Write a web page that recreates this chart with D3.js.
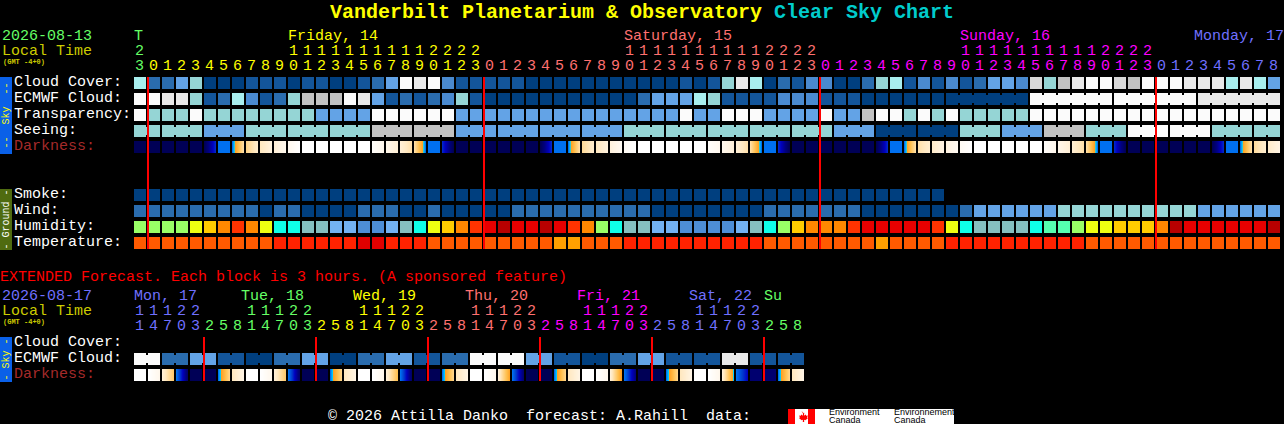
<!DOCTYPE html>
<html>
<head>
<meta charset="utf-8">
<title>Vanderbilt Planetarium & Observatory Clear Sky Chart</title>
<script src="https://cdn.jsdelivr.net/npm/d3@7/dist/d3.min.js"></script>
<style>
html,body{margin:0;padding:0;background:#000;overflow:hidden}
svg{display:block}
text{font-family:"Liberation Mono","DejaVu Sans Mono",monospace;font-size:15px;white-space:pre}
</style>
</head>
<body>
<svg id="chart" width="1284" height="424"></svg>
<script>
// ---------- labels ----------
const hourOnes = ("3"+"012345678901234567890123".repeat(3)+"012345678").split("");
const hourTens = ("2"+("          11111111112222").repeat(3)).split("");
const mainColourSpans = [["green",1],["yellow",24],["salmon",24],["magenta",24],["blue",9]];
const mainDays = [["T",0,"green"],["Friday, 14",11,"yellow"],["Saturday, 15",35,"salmon"],["Sunday, 16",59,"magenta"],["Monday, 17",75.72,"blue"]];
const extOnes = ("14703"+"25814703".repeat(5)+"258").split("");
const extTens = ("11122"+"   11122".repeat(5)).split("");
const extColourSpans = [["blue",5],["green",8],["yellow",8],["salmon",8],["magenta",8],["blue",8],["green",3]];
const extDays = [["Mon, 17",0,"blue"],["Tue, 18",7.64,"green"],["Wed, 19",15.64,"yellow"],["Thu, 20",23.64,"salmon"],["Fri, 21",31.64,"magenta"],["Sat, 22",39.64,"blue"],["Su",45,"green"]];
const skyLabels = ["Cloud Cover:","ECMWF Cloud:","Transparency:","Seeing:","Darkness:"];
const groundLabels = ["Smoke:","Wind:","Humidity:","Temperature:"];
const extLabels = ["Cloud Cover:","ECMWF Cloud:","Darkness:"];
const midnightColsMain = [1,25,49,73];
const midnightColsExt = [5,13,21,29,37,45];

// ---------- series (palette codes, one per hour block) ----------
const cloudCover = [6,2,2,4,5,0,0,0,1,1,1,0,1,1,0,0,1,2,4,8,7,8,3,1,1,1,1,1,0,0,0,0,0,0,0,0,0,0,0,1,0,1,5,7,6,0,2,1,3,3,0,0,2,5,6,1,3,1,3,1,2,4,4,3,10,5,9,7,8,8,10,9,8,8,8,7,7,7,6,7,6,4];
const ecmwfCloud = [8,8,7,7,5,1,2,6,3,1,2,5,9,9,9,8,7,4,1,2,1,2,3,5,1,0,0,0,0,0,0,0,0,0,0,0,2,4,4,4,6,5,1,1,1,1,3,3,3,1,1,1,0,0,0,0,0,0,0,0,0,0,0,0,8,8,8,8,8,8,8,8,8,8,8,8,7,7,7,7,7,7];
const ecmwfSpans = [...Array(58).fill(1),6,6,6,6];
const transparency = [8,5,5,5,8,5,5,5,5,5,5,5,5,4,4,4,4,8,8,8,8,8,8,4,4,4,4,4,4,4,4,4,4,4,4,4,4,4,4,8,4,4,8,8,8,4,4,4,4,8,4,4,9,8,8,5,8,5,8,5,5,5,5,5,8,8,8,8,8,8,8,8,8,8,8,8,8,8,8,8,8,8];
const seeingBlocks = [5,5,4,5,5,5,9,9,4,4,4,4,5,5,5,5,5,4,0,0,5,4,9,5,8,8,5,5];
const seeingSpans = [2,3,3,3,3,3,3,3,3,3,3,3,3,3,3,3,3,3,3,3,3,3,3,3,3,3,3,2];
const seeing = seeingBlocks.flatMap((v,i)=>Array(seeingSpans[i]).fill(v));
const darknessStart = [0,0,0,0,0,0,4,4,7,8,8.6,9.4,10,10,10,10,10,9.8,9.2,8.6,7.5,4,2.6,0,0,0,0,0,0,0,4,4,7.3,8,8.8,9.6,10,10,10,10,10,9.8,9.3,8.6,7.5,4,2.6,0,0,0,0,0,0,0,4,4,7.6,8.3,8.9,9.6,10,10,10,10,10,9.8,9.2,8.5,7.5,4,2.6,0,0,0,0,0,0,0,4,4,7.4,8.3];
const darknessEnd   = [0,0,0,0,0,2.6,4,7.5,8.3,8.8,9.3,10,10,10,10,10,10,9.3,8.6,7.6,4,4,0,0,0,0,0,0,0,2.6,4,7.5,8.3,8.8,9.5,10,10,10,10,10,10,9.4,8.7,7.6,4,4,0,0,0,0,0,0,0,2.6,4,7.5,8.4,9,9.5,10,10,10,10,10,10,9.3,8.6,7.6,4,4,0,0,0,0,0,0,0,2.6,4,7.5,8.4,9];
const smoke = Array(58).fill(0);
const wind = [2,2,2,2,2,2,2,2,2,0,2,2,0,0,0,0,2,2,2,0,0,2,0,0,0,0,0,2,2,2,2,2,2,2,2,2,2,0,0,0,0,0,0,0,0,2,2,2,2,2,2,2,0,0,0,0,0,0,0,2,4,4,4,4,4,4,5,5,5,5,5,5,5,5,5,5,4,4,4,4,4,4];
const humidity = ["g","g","g","g","y","a","o","r","o","y","c","c","t","t","l","l","m","m","l","t","c","y","a","o","r","e","d","e","e","d","e","r","o","g","c","t","t","l","l","m","m","m","m","l","t","c","g","a","o","o","o","r","e","e","e","e","e","r","y","c","t","t","t","t","c","n","n","g","y","y","a","a","a","o","d","e","e","e","e","e","e","d"];
const temperature = ["o","o","o","o","o","o","o","o","o","o","r","r","r","r","r","r","e","e","r","r","r","o","o","o","o","o","o","o","o","o","a","a","o","o","o","r","r","r","r","r","r","r","r","r","r","o","o","o","o","o","o","o","o","a","o","o","o","o","r","r","r","r","r","r","r","r","r","r","o","o","o","o","o","o","o","o","o","o","o","o","o","o"];
const extCloud = [8,8,2,2,4,4,1,1,0,0,2,2,4,4,0,0,2,2,4,4,1,1,2,2,8,8,8,8,4,4,1,1,0,0,2,2,4,4,1,1,1,1,7,7,1,1,1,1];
const extSpans = Array(24).fill(2);
const extDarkStart = [10,10,8.6,4,0,0,4,8, 10,10,8.6,4,0,0,4,8, 10,10,8.6,4,0,0,4,8, 10,10,8.6,4,0,0,4,8, 10,10,8.6,4,0,0,4,8, 10,10,8.6,4,0.6,0.6,4,8];
const extDarkEnd   = [10,9.3,6.5,0.5,0,0,7,9, 10,9.3,6.5,0.5,0,0,7,9, 10,9.3,6,0.5,0,0,7,9, 10,9.3,5,0.7,0,0,7,9, 10,9.3,4.8,1,0,0,7,9, 10,9.3,4.6,2,0.6,0.6,7,9];

// ---------- scales ----------
const x = d3.scaleLinear().domain([0,1]).range([134,148]);
const cellW = 12, cellH = 12;
const bridgeW = x(1)-x(0)-cellW, bridgeInset = 2;
const textColour = d3.scaleOrdinal(["green","yellow","salmon","magenta","blue"],["#66ff66","#ffff00","#ff7070","#ff00ff","#7070ff"]);
const cloudColour = d3.scaleOrdinal([0,1,2,3,4,5,6,7,8,9,10],["#003f7f","#13559a","#2a6cae","#4a8ad0","#63a3e6","#95d5d5","#a8eeee","#e9e9e9","#fbfbfb","#c2c2c2","#d8d8d8"]);
const humColour = d3.scaleOrdinal(["g","n","y","a","o","r","e","d","c","t","l","m"],["#99ff66","#55ffb0","#eeff11","#ffcc00","#ff8800","#ff3300","#e80000","#b80000","#0fffe8","#85bfbf","#73b2f2","#4d8ed6"]);
const tempColour = d3.scaleOrdinal(["o","r","e","a"],["#ff5a00","#ff2200","#e00000","#ffa000"]);
const darkColour = d3.scaleLinear()
  .domain([0,1,2,3,4,4.6,4.8,6,8,9,10])
  .range(["#000056","#000080","#0000c0","#0040d0","#0070f0","#00d0ff","#ffa020","#ffc050","#ffe8c0","#fff4e4","#ffffff"])
  .clamp(true);

const svg = d3.select("#chart");

function drawCells(g, y, values, colour, spans){
  g.selectAll(null).data(values).join("rect")
    .attr("x",(d,i)=>x(i)).attr("y",y).attr("width",cellW).attr("height",cellH)
    .attr("fill",d=>colour(d)).attr("shape-rendering","crispEdges");
  if(spans){
    let col=0; const links=[];
    spans.forEach(s=>{ for(let k=0;k<s-1;k++) links.push(col+k); col+=s; });
    g.selectAll(null).data(links).join("rect")
      .attr("x",d=>x(d)+cellW).attr("y",y+bridgeInset).attr("width",bridgeW).attr("height",cellH-2*bridgeInset)
      .attr("fill",d=>colour(values[d])).attr("shape-rendering","crispEdges");
  }
}
function drawDarkness(g, y, starts, ends){
  const strips = [];
  starts.forEach((s,i)=>{ for(let k=0;k<cellW;k++) strips.push({i,k,v:s+(ends[i]-s)*k/(cellW-1)}); });
  g.selectAll(null).data(strips).join("rect")
    .attr("x",d=>x(d.i)+d.k).attr("y",y).attr("width",1).attr("height",cellH)
    .attr("fill",d=>darkColour(d.v)).attr("shape-rendering","crispEdges");
}
function put(txt,px,py,fill,extra){
  const t = svg.append("text").attr("x",px).attr("y",py).attr("fill",fill).attr("xml:space","preserve").text(txt);
  if(extra) Object.entries(extra).forEach(([k,v])=>t.style(k,v));
  return t;
}
function colourAt(spans,i){ let c=0; for(const [n,s] of spans){ c+=s; if(i<c) return textColour(n);} }
function hourAxis(ones,tens,spans,days,top){
  days.forEach(([t,c,n])=>put(t,x(c),top,textColour(n)));
  tens.forEach((t,i)=>{ if(t!==" ") put(t,x(i)+1,top+15,colourAt(spans,i)); });
  ones.forEach((t,i)=>put(t,x(i)+1,top+30,colourAt(spans,i)));
}
function rowLabels(labels,ys){
  labels.forEach((l,i)=>put(l,14,ys[i]+9,l==="Darkness:"?"#a52a2a":"#ffffff"));
}
function sidebar(y,h,fill,txt,colour){
  svg.append("rect").attr("x",0).attr("y",y).attr("width",12).attr("height",h).attr("fill",fill).attr("shape-rendering","crispEdges");
  svg.append("text").attr("transform",`translate(9,${y+h/2}) rotate(-90)`).attr("text-anchor","middle")
    .attr("fill",colour).style("font-size","10px").attr("xml:space","preserve").text(txt);
}
function redLines(cols,y,h){
  svg.selectAll(null).data(cols).join("rect")
    .attr("x",d=>x(d)-1).attr("y",y).attr("width",2).attr("height",h).attr("fill","#ff0000").attr("shape-rendering","crispEdges");
}

// ---------- title ----------
put("Vanderbilt Planetarium & Observatory",330,18,"#ffff00",{"font-size":"20px","font-weight":"bold"});
put("Clear Sky Chart",774,18,"#00cccc",{"font-size":"20px","font-weight":"bold"});

// ---------- main block ----------
put("2026-08-13",2,40,"#66ff66");
put("Local Time",2,55,"#cccc00");
put("(GMT -4+0)",3,64,"#cccc00",{"font-size":"7px","font-weight":"bold"});
hourAxis(hourOnes,hourTens,mainColourSpans,mainDays,40);

const skyY = [77,93,109,125,141], groundY = [189,205,221,237];
rowLabels(skyLabels,skyY);
rowLabels(groundLabels,groundY);
sidebar(77,77,"#0a60e8","--  Sky  --","#ffff00");
sidebar(189,61,"#4f6b10","- Ground -","#ffffff");

const main = svg.append("g");
drawCells(main,skyY[0],cloudCover,cloudColour);
drawCells(main,skyY[1],ecmwfCloud,cloudColour,ecmwfSpans);
drawCells(main,skyY[2],transparency,cloudColour);
drawCells(main,skyY[3],seeing,cloudColour,seeingSpans);
drawDarkness(main,skyY[4],darknessStart,darknessEnd);
drawCells(main,groundY[0],smoke,cloudColour);
drawCells(main,groundY[1],wind,cloudColour);
drawCells(main,groundY[2],humidity,humColour);
drawCells(main,groundY[3],temperature,tempColour);
redLines(midnightColsMain,77,172);

// ---------- extended block ----------
put("EXTENDED Forecast. Each block is 3 hours. (A sponsored feature)",0,281,"#ff0000");
put("2026-08-17",2,300,"#7070ff");
put("Local Time",2,315,"#cccc00");
put("(GMT -4+0)",3,324,"#cccc00",{"font-size":"7px","font-weight":"bold"});
hourAxis(extOnes,extTens,extColourSpans,extDays,300);
const extY = [337,353,369];
rowLabels(extLabels,extY);
sidebar(337,45,"#0a60e8","- Sky -","#ffff00");
const ext = svg.append("g");
drawCells(ext,extY[1],extCloud,cloudColour,extSpans);
drawDarkness(ext,extY[2],extDarkStart,extDarkEnd);
redLines(midnightColsExt,337,44);

// ---------- footer ----------
put("© 2026 Attilla Danko  forecast: A.Rahill  data:",328,420,"#ffffff");
const logo = svg.append("g").attr("shape-rendering","crispEdges");
logo.append("rect").attr("x",788).attr("y",409).attr("width",166).attr("height",15).attr("fill","#ffffff");
logo.append("rect").attr("x",788).attr("y",409).attr("width",7).attr("height",15).attr("fill","#ff0000");
logo.append("rect").attr("x",808).attr("y",409).attr("width",7).attr("height",15).attr("fill","#ff0000");
svg.append("path").attr("d","M801.5 411l1.4 2.4 1.4-.6-.4 3 1.8-1.4.5 1.4 1.6-.2-.6 2 .7.6-2.6 2-1.2-.4.1 2.2h-1.4l.1-2.2-1.2.4-2.6-2 .7-.6-.6-2 1.6.2.5-1.4 1.8 1.4-.4-3 1.4.6z").attr("fill","#ff0000");
[["Environment",829,415],["Canada",829,423],["Environnement",894,415],["Canada",894,423]]
  .forEach(([t,a,b])=>put(t,a,b,"#000000",{"font-size":"9px","font-family":"'Liberation Sans',sans-serif"}));
</script>
</body>
</html>
